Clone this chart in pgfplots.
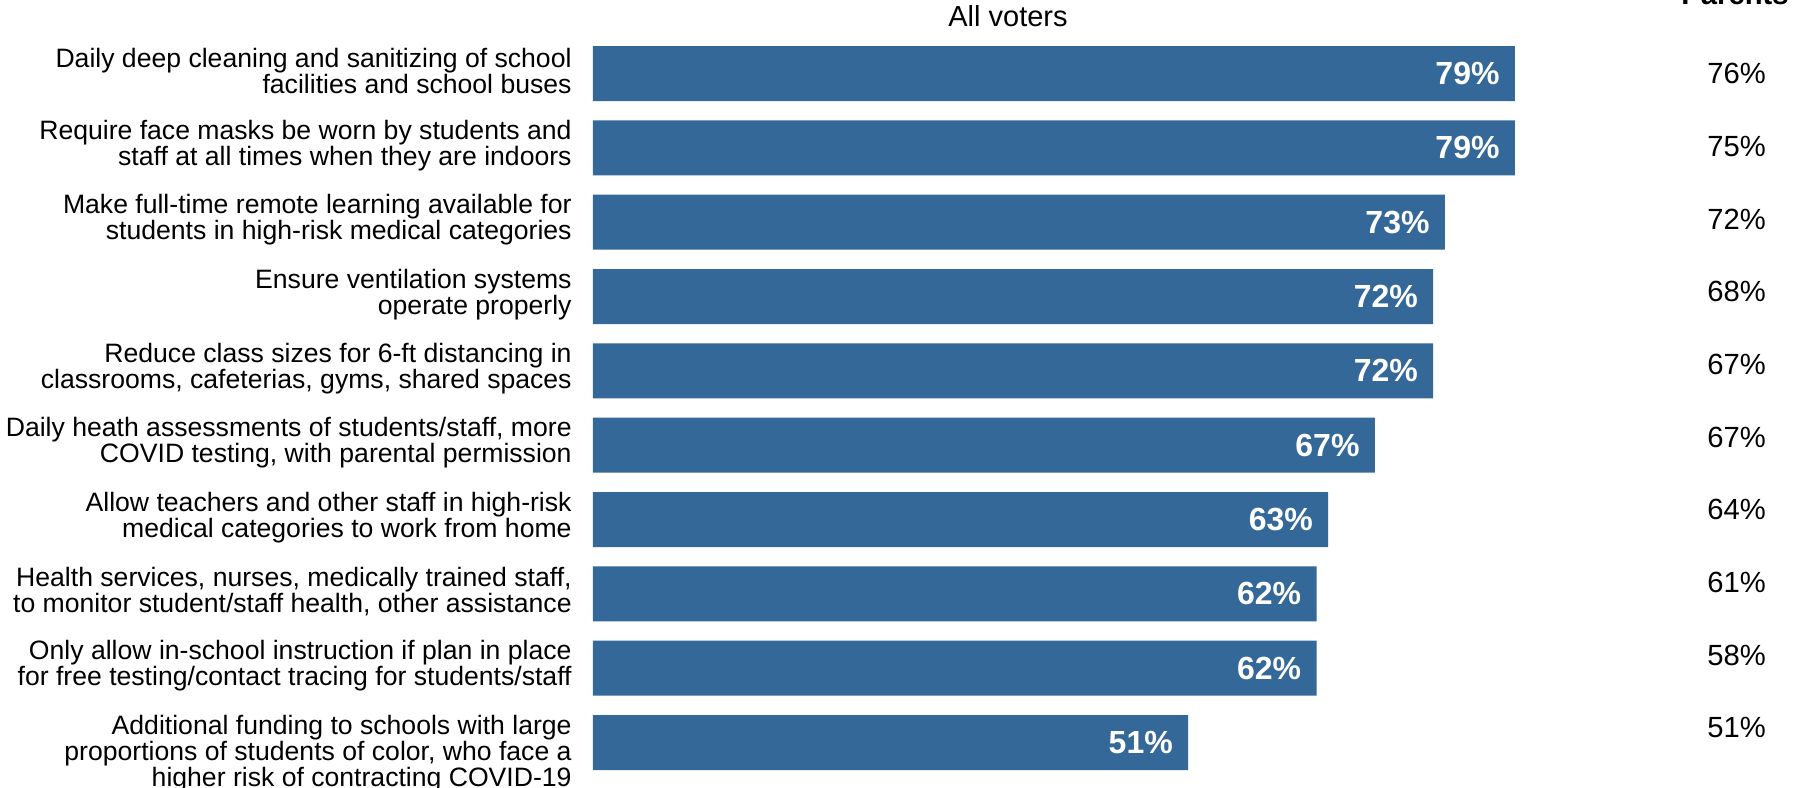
\documentclass[border=0pt]{standalone}
\usepackage{fontspec}
\setmainfont{Liberation Sans}
\usepackage{pgfplots}
\pgfplotsset{compat=1.18}
\definecolor{barblue}{RGB}{52,104,153}
\begin{document}
\begin{tikzpicture}
\begin{axis}[
  at={(0,0)}, anchor=south west,
  scale only axis,
  width=583.5pt, height=371.65pt,
  xmin=0, xmax=100,
  ymin=-0.5, ymax=9.5,
  y dir=reverse,
  axis line style={draw=none},
  tick style={draw=none},
  xtick=\empty,
  clip=false,
  bar width=27.5pt,
  /pgf/number format/assume math mode=true,
  ytick={0,...,9},
  major tick length=0pt,
  yticklabels={
    {Daily deep cleaning and sanitizing of school\\facilities and school buses},
    {Require face masks be worn by students and\\staff at all times when they are indoors},
    {Make full-time remote learning available for\\students in high-risk medical categories},
    {Ensure ventilation systems\\operate properly},
    {Reduce class sizes for 6-ft distancing in\\classrooms, cafeterias, gyms, shared spaces},
    {Daily heath assessments of students/staff, more\\COVID testing, with parental permission},
    {Allow teachers and other staff in high-risk\\medical categories to work from home},
    {Health services, nurses, medically trained staff,\\to monitor student/staff health, other assistance},
    {Only allow in-school instruction if plan in place\\for free testing/contact tracing for students/staff},
    {\rule{0pt}{23.5pt}Additional funding to schools with large\\proportions of students of color, who face a\\higher risk of contracting COVID-19}
  },
  yticklabel style={align=right, font=\fontsize{13.3}{13}\selectfont, inner sep=0pt, xshift=-10.5pt, yshift=1.2pt},
]
\addplot[xbar, fill=barblue, draw=none, point meta=x,
  nodes near coords={\pgfmathprintnumber{\pgfplotspointmeta}\%},
  nodes near coords style={anchor=east, xshift=-7.5pt, inner sep=0pt, text=white,
    font=\fontsize{16}{17}\selectfont\bfseries}]
  coordinates {(79,0) (79,1) (73,2) (72,3) (72,4) (67,5) (63,6) (62,7) (62,8) (51,9)};
\addplot[draw=none, mark=none, point meta=explicit,
  nodes near coords={\pgfmathprintnumber{\pgfplotspointmeta}\%},
  nodes near coords style={anchor=center, inner sep=0pt, text=black,
    font=\fontsize{14.6}{15}\selectfont}]
  coordinates {(98,0)[76] (98,0.978)[75] (98,1.956)[72] (98,2.934)[68] (98,3.912)[67]
               (98,4.89)[67] (98,5.868)[64] (98,6.846)[61] (98,7.824)[58] (98,8.802)[51]};
\end{axis}
\node[anchor=base, inner sep=0pt, font=\fontsize{14.5}{15}\selectfont] at (207.5pt,376.35pt) {All voters};
\node[anchor=base, inner sep=0pt, font=\fontsize{14.6}{15}\selectfont\bfseries] at (571pt,387.35pt) {Parents};
\pgfresetboundingbox
\path (-296.5pt,-3.65pt) rectangle (604.5pt,389.85pt);
\end{tikzpicture}
\end{document}
